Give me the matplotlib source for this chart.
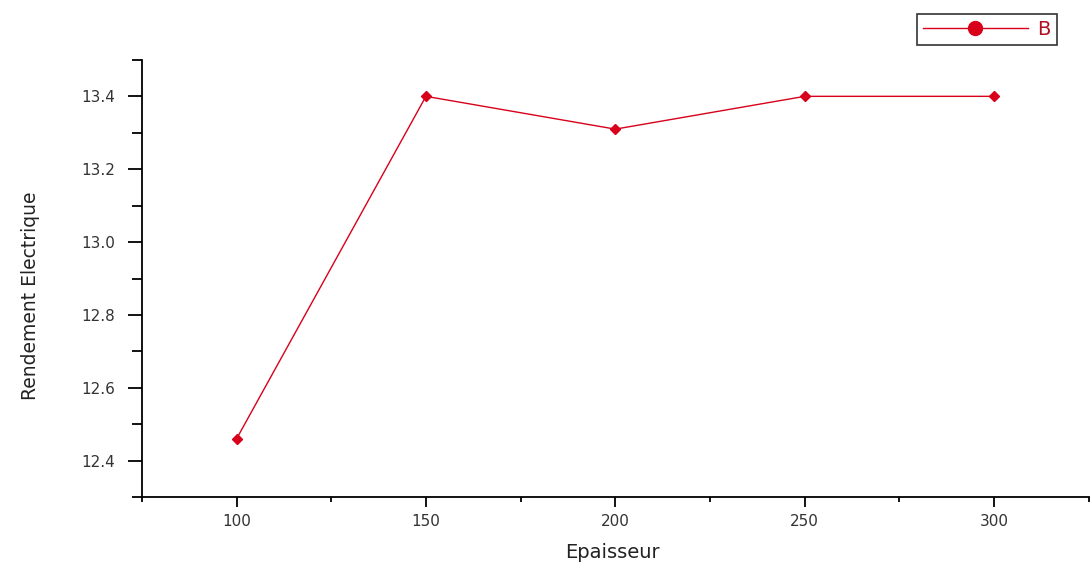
import matplotlib
matplotlib.use("Agg")
import matplotlib.pyplot as plt
from matplotlib.lines import Line2D
from matplotlib.ticker import MultipleLocator

epaisseur = [100, 150, 200, 250, 300]
rendement = [12.46, 13.40, 13.31, 13.40, 13.40]
xticks = [100, 150, 200, 250, 300]
yticks = [12.4, 12.6, 12.8, 13.0, 13.2, 13.4]

red = "#d8001a"
fig = plt.figure(figsize=(10.91, 5.65), dpi=100)
ax = fig.add_axes([0.130, 0.120, 0.868, 0.774])
ax.plot(epaisseur, rendement, color=red, lw=1.0, marker="D", ms=5.5, mfc=red, mec=red)
ax.set_xlim(75, 325)
ax.set_ylim(12.3, 13.5)
ax.set_xticks(xticks)
ax.set_yticks(yticks)
ax.set_yticklabels([f"{v:.1f}" for v in yticks])
ax.xaxis.set_minor_locator(MultipleLocator(25))
ax.yaxis.set_minor_locator(MultipleLocator(0.1))
for s in ["top", "right"]:
    ax.spines[s].set_visible(False)
for s in ["left", "bottom"]:
    ax.spines[s].set_linewidth(1.3)
ax.tick_params(which="both", width=1.3, labelsize=11, labelcolor="#333333")
ax.tick_params(axis="y", which="major", length=10, pad=9)
ax.tick_params(axis="y", which="minor", length=7)
ax.tick_params(axis="x", which="major", length=7, pad=5)
ax.tick_params(axis="x", which="minor", length=3.6)
ax.set_xlabel("Epaisseur", fontsize=14, color="#222222")
ax.xaxis.set_label_coords(0.497, -0.105)
ax.set_ylabel("Rendement Electrique", fontsize=13.5, color="#222222")
ax.yaxis.set_label_coords(-0.108, 0.46)
handle = Line2D([], [], color=red, lw=1.0, marker="o", ms=10, mfc=red, mec=red)
leg = ax.legend([handle], ["B"], loc="upper right", bbox_to_anchor=(0.966, 1.105),
                frameon=True, fancybox=False, edgecolor="black", fontsize=14,
                handlelength=5.4, borderpad=0.3, handletextpad=0.5, borderaxespad=0)
leg.get_frame().set_linewidth(1.2)
for t in leg.get_texts():
    t.set_color("#b01020")
fig.savefig("out.png", dpi=100)
